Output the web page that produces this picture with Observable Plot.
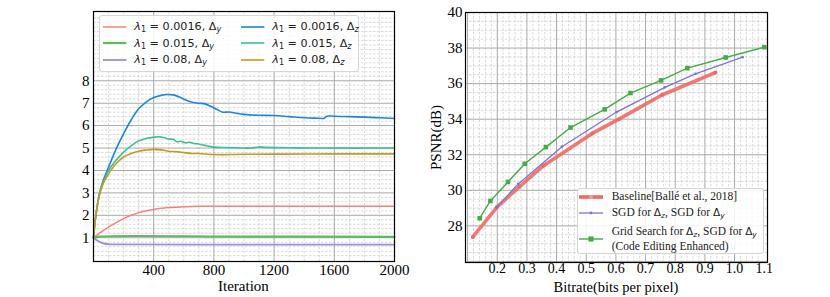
<!DOCTYPE html>
<html><head><meta charset="utf-8">
<script src="https://cdn.jsdelivr.net/npm/d3@7"></script>
<script src="https://cdn.jsdelivr.net/npm/@observablehq/plot@0.6"></script>
<style>
body{margin:0;background:#fff}
#fig{position:relative;width:830px;height:297px;overflow:hidden;font-family:"Liberation Serif",serif;background:#fff}
.panel{position:absolute;top:0}
.lbl{position:absolute;white-space:nowrap;color:#000;line-height:1}
.legend{position:absolute;background:rgba(255,255,255,0.85);border:1px solid #d6d6d6;border-radius:3px;box-sizing:border-box}
.entry{position:absolute;white-space:nowrap;line-height:1;color:#222}
.entry sub{font-size:72%;vertical-align:-0.25em;line-height:0}
.sw{position:absolute}
</style></head><body><div id="fig"></div>
<script>
// ---------- LEFT PANEL DATA (iteration, value) ----------
const seriesLabels = ["λ1 = 0.0016, Δy","λ1 = 0.015, Δy","λ1 = 0.08, Δy","λ1 = 0.0016, Δz","λ1 = 0.015, Δz","λ1 = 0.08, Δz"];
const red0016y = [[0,1.0],[50,1.25],[100,1.47],[150,1.67],[200,1.85],[250,2.0],[300,2.12],[350,2.2],[400,2.26],[450,2.31],[500,2.35],[600,2.38],[700,2.4],[1200,2.4],[2000,2.4]];
const green015y = [[0,1.0],[40,1.05],[1000,1.05],[2000,1.04]];
const purple08y = [[0,1.0],[30,0.85],[60,0.76],[100,0.71],[150,0.7],[1000,0.69],[2000,0.69]];
const blue0016z = [[0,1.0],[10,1.7],[20,2.2],[30,2.65],[40,3.0],[55,3.35],[70,3.65],[100,4.15],[150,4.95],[200,5.64],[250,6.25],[300,6.75],[350,7.05],[400,7.25],[450,7.35],[490,7.39],[530,7.37],[570,7.28],[610,7.15],[650,7.05],[700,7.0],[740,6.97],[780,6.86],[820,6.72],[860,6.6],[900,6.61],[950,6.55],[1000,6.5],[1100,6.46],[1200,6.45],[1300,6.4],[1400,6.35],[1500,6.33],[1530,6.32],[1550,6.42],[1600,6.42],[1700,6.4],[1800,6.38],[1900,6.35],[2000,6.32]];
const teal015z = [[0,1.0],[10,1.7],[20,2.2],[30,2.62],[40,2.95],[55,3.3],[70,3.55],[100,4.0],[150,4.45],[200,4.82],[250,5.1],[300,5.32],[350,5.43],[400,5.48],[440,5.5],[470,5.46],[500,5.4],[530,5.39],[555,5.28],[580,5.3],[610,5.24],[640,5.26],[670,5.2],[700,5.18],[730,5.13],[760,5.09],[800,5.04],[900,5.02],[1000,5.0],[1050,5.0],[1100,5.05],[1150,5.03],[1300,5.01],[1500,5.0],[2000,5.0]];
const gold08z = [[0,1.0],[10,1.7],[20,2.2],[30,2.6],[40,2.92],[55,3.25],[70,3.5],[100,3.85],[150,4.3],[200,4.6],[250,4.76],[300,4.86],[350,4.91],[400,4.94],[450,4.92],[500,4.86],[550,4.84],[600,4.8],[650,4.76],[700,4.76],[800,4.71],[900,4.71],[1000,4.72],[1200,4.73],[1600,4.74],[2000,4.74]];
const leftXTicks = [400,800,1200,1600,2000];
const leftYTicks = [1,2,3,4,5,6,7,8];

// ---------- RIGHT PANEL DATA (bpp, PSNR) ----------
const baselineBpp  = [0.118,0.199,0.275,0.357,0.52,0.61,0.755,0.935];
const baselinePsnr = [27.38,29.05,30.2,31.4,33.2,34.0,35.36,36.62];
const sgdBpp  = [0.198,0.271,0.418,0.602,0.765,0.868,1.027];
const sgdPsnr = [29.05,30.36,32.45,34.4,35.79,36.55,37.49];
const gridBpp  = [0.141,0.177,0.236,0.293,0.364,0.447,0.562,0.649,0.752,0.841,0.97,1.10];
const gridPsnr = [28.43,29.4,30.47,31.49,32.43,33.53,34.55,35.47,36.18,36.87,37.47,38.05];
const rightXTicks = [0.2,0.3,0.4,0.5,0.6,0.7,0.8,0.9,1.0,1.1];
const rightYTicks = [28,30,32,34,36,38,40];

// ---------- styles ----------
const SERIF = "Liberation Serif";
const leftColors = ["#f4837d","#5dbb5d","#9a90d8","#1b87dc","#3cbf98","#c8981f"];
const leftWidths = [1.5,2.2,1.8,1.6,1.6,1.6];
const leftSeries = [red0016y,green015y,purple08y,blue0016z,teal015z,gold08z];
const minorStyle = {stroke:"#cfcfcf", strokeWidth:0.8, strokeDasharray:"2.5,1.5"};
const majorStyle = {stroke:"#a9a9a9", strokeWidth:1};
const fig = document.getElementById("fig");
const baseStyle = {fontFamily:SERIF, fontSize:"15px", background:"transparent", color:"black", overflow:"visible"};

const lrows = leftSeries.map((s,i)=>s.map(([iter,value])=>({iter,value,series:seriesLabels[i]})));
const left = Plot.plot({
  width:415, height:297, marginLeft:93, marginRight:21, marginTop:11, marginBottom:36,
  x:{domain:[0,2000]}, y:{domain:[-0.06,11.09]},
  style:baseStyle,
  marks:[
    Plot.ruleX(d3.range(100,2000,100).filter(v=>v%400), minorStyle),
    Plot.ruleY(d3.range(0.2,11.0,0.2).map(v=>+v.toFixed(1)).filter(v=>Math.abs(v-Math.round(v))>1e-6 || v>8), minorStyle),
    Plot.ruleX(leftXTicks.slice(0,4), majorStyle),
    Plot.ruleY(leftYTicks, majorStyle),
    ...lrows.map((r,i)=>Plot.line(r,{x:"iter",y:"value",stroke:leftColors[i],strokeWidth:leftWidths[i],curve:"catmull-rom"})),
    Plot.frame({stroke:"black", strokeWidth:1.2}),
    Plot.axisX(leftXTicks,{tickSize:0,tickPadding:3,label:null,tickFormat:d=>String(d),fontSize:15,fontFamily:SERIF}),
    Plot.axisY(leftYTicks,{tickSize:0,tickPadding:4,label:null,tickFormat:d=>String(d),fontSize:15,fontFamily:SERIF})
  ]
});
left.classList.add("panel"); left.style.left="0px";
fig.appendChild(left);

const toRows=(xs,ys)=>xs.map((x,i)=>({bpp:x,psnr:ys[i]}));
const base=toRows(baselineBpp,baselinePsnr), sgd=toRows(sgdBpp,sgdPsnr), grid=toRows(gridBpp,gridPsnr);
const right = Plot.plot({
  width:415, height:297, marginLeft:50, marginRight:63, marginTop:12, marginBottom:35,
  x:{domain:[0.093,1.111]}, y:{domain:[25.94,40]},
  style:baseStyle,
  marks:[
    Plot.ruleX(d3.range(0.1,1.111,0.02).map(v=>+v.toFixed(2)).filter(v=>Math.abs(v*10-Math.round(v*10))>1e-6), minorStyle),
    Plot.ruleY(d3.range(26,40,0.5).filter(v=>v%2), minorStyle),
    Plot.ruleX([0.1,...rightXTicks.slice(0,9)], majorStyle),
    Plot.ruleY([26,...rightYTicks.slice(0,6)], majorStyle),
    Plot.line(base,{x:"bpp",y:"psnr",stroke:"#f06a64",strokeWidth:3.6,strokeOpacity:0.9}),
    Plot.dot(base,{x:"bpp",y:"psnr",fill:"#f06a64",r:2}),
    Plot.line(sgd,{x:"bpp",y:"psnr",stroke:"#7d74d4",strokeWidth:1.3}),
    Plot.dot(sgd,{x:"bpp",y:"psnr",fill:"#7d74d4",r:1.4}),
    Plot.line(grid,{x:"bpp",y:"psnr",stroke:"#43ad43",strokeWidth:1.4}),
    Plot.dot(grid,{x:"bpp",y:"psnr",fill:"#43ad43",symbol:"square",r:2.6}),
    Plot.frame({stroke:"black", strokeWidth:1.2}),
    Plot.axisX(rightXTicks,{tickSize:0,tickPadding:1,label:null,tickFormat:d3.format(".1f"),fontSize:14,fontFamily:SERIF}),
    Plot.axisY(rightYTicks,{tickSize:0,tickPadding:3,label:null,tickFormat:d=>String(d),fontSize:15,fontFamily:SERIF})
  ]
});
right.classList.add("panel"); right.style.left="415px";
fig.appendChild(right);
[left,right].forEach(svg=>svg.querySelectorAll("text").forEach(t=>{t.style.fontFamily='"Liberation Serif", serif';}));

// ---------- axis labels ----------
function addLabel(text,x,y,rot,size){
  const d=document.createElement("div"); d.className="lbl"; d.textContent=text; d.style.fontSize=size+"px";
  fig.appendChild(d);
  const w=d.offsetWidth,h=d.offsetHeight;
  d.style.left=(x-w/2)+"px"; d.style.top=(y-h/2)+"px";
  if(rot) d.style.transform="rotate(-90deg)";
}
addLabel("Iteration",243.5,286,false,15);
addLabel("Bitrate(bits per pixel)",616,287,false,14.5);
addLabel("PSNR(dB)",436,137,true,15);

// ---------- legends ----------
function box(l,t,r,b){const d=document.createElement("div");d.className="legend";Object.assign(d.style,{left:l+"px",top:t+"px",width:(r-l)+"px",height:(b-t)+"px"});fig.appendChild(d);}
function swatch(x1,x2,y,color,w,marker,mcolor){
  const s=document.createElementNS("http://www.w3.org/2000/svg","svg");
  s.setAttribute("class","sw"); s.setAttribute("width",x2-x1+8); s.setAttribute("height",12);
  s.style.left=(x1-4)+"px"; s.style.top=(y-6)+"px";
  let html=`<line x1="4" x2="${x2-x1+4}" y1="6" y2="6" stroke="${color}" stroke-width="${w}"/>`;
  const cx=(x2-x1)/2+4;
  if(marker==="dot") html+=`<circle cx="${cx}" cy="6" r="2" fill="${mcolor||color}"/>`;
  if(marker==="small") html+=`<circle cx="${cx}" cy="6" r="1.4" fill="${color}"/>`;
  if(marker==="square") html+=`<rect x="${cx-2.6}" y="3.4" width="5.2" height="5.2" fill="${color}"/>`;
  s.innerHTML=html; fig.appendChild(s);
}
function entry(html,x,y,font,size){
  const d=document.createElement("div"); d.className="entry"; d.innerHTML=html;
  d.style.fontFamily=font; d.style.fontSize=size+"px"; fig.appendChild(d);
  d.style.left=x+"px"; d.style.top=(y-d.offsetHeight/2)+"px";
}
box(99,15,359,72);
const mathLbl = s => { const m=s.match(/λ1 = ([\d.]+), Δ(\w)/); return `<i>λ</i><sub>1</sub> = ${m[1]}, Δ<sub><i>${m[2]}</i></sub>`; };
const rowsY=[26.7,43.3,59.7];
for(let i=0;i<6;i++){
  const col=i<3?0:1, row=i%3;
  const sx=col?240.7:102.7, tx=col?272.3:134.3;
  swatch(sx,sx+23.3,rowsY[row],leftColors[i],leftWidths[i]);
  entry(mathLbl(seriesLabels[i]),tx,rowsY[row],'"DejaVu Sans",sans-serif',11.2);
}
box(577,188,764,254);
const dv = t => `<span style="font-family:'DejaVu Sans';font-size:10.5px;line-height:1">Δ<sub><i>${t}</i></sub></span>`;
swatch(579.3,603.3,197.3,"#f06a64",3.6,"dot","#f0a09c");
entry("Baseline[Ballé et al., 2018]",611.7,197.3,'"Liberation Serif",serif',11.5);
swatch(579.3,603.3,213.3,"#7d74d4",1.3,"small");
entry(`SGD for ${dv("z")}, SGD for ${dv("y")}`,611.7,213.3,'"Liberation Serif",serif',11.5);
swatch(579.3,603.3,239.3,"#43ad43",1.4,"square");
entry(`Grid Search for ${dv("z")}, SGD for ${dv("y")}`,611.7,232.3,'"Liberation Serif",serif',11.5);
entry("(Code Editing Enhanced)",611.7,246.5,'"Liberation Serif",serif',11.5);
</script></body></html>
